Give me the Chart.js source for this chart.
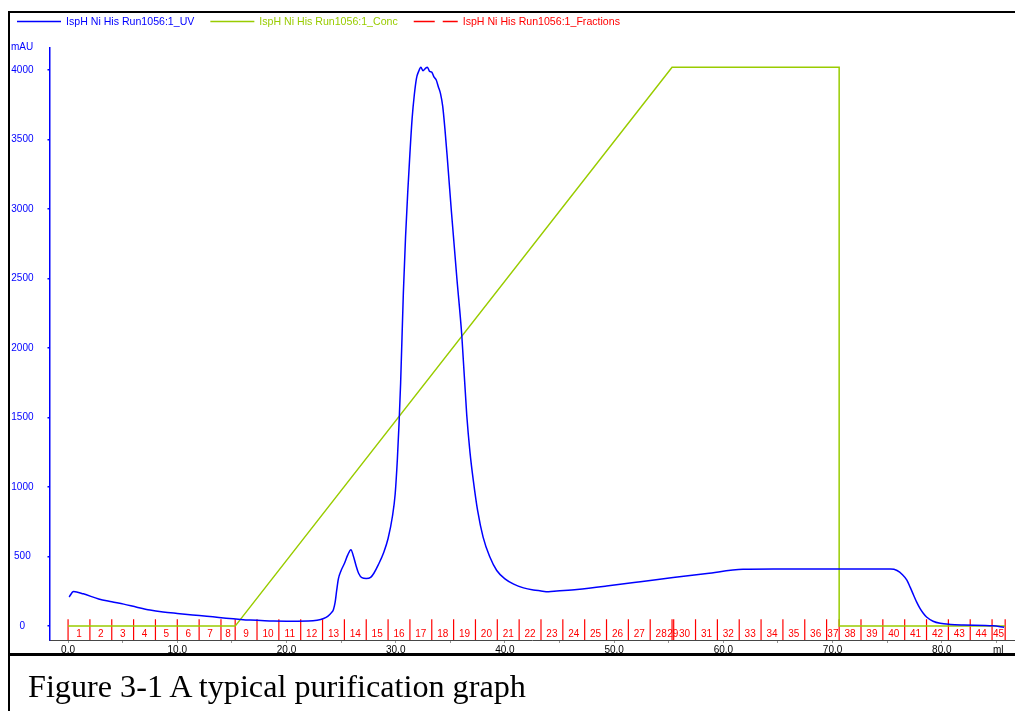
<!DOCTYPE html>
<html>
<head>
<meta charset="utf-8">
<title>IspH Ni His Run1056</title>
<script src="https://cdn.jsdelivr.net/npm/chart.js@4.4.1/dist/chart.umd.min.js"></script>
<style>
  html, body { margin: 0; padding: 0; background: #fff; }
  #wrap { position: relative; width: 1015px; height: 711px; overflow: hidden; }
  #theChart { position: absolute; left: 0; top: 0; }
  .rule { position: absolute; background: #000; }
  #caption {
    position: absolute; left: 28px; top: 670px;
    font: 32.2px/32px "Liberation Serif", "Times New Roman", serif;
    color: #000; white-space: nowrap;
  }
</style>
</head>
<body>
<div id="wrap">
  <canvas id="theChart" width="1015" height="711"></canvas>
  <div class="rule" style="left:8px;top:11px;width:1007px;height:2px"></div>
  <div class="rule" style="left:8px;top:11px;width:2px;height:700px"></div>
  <div class="rule" style="left:8px;top:653px;width:1007px;height:3px"></div>
  <div id="caption">Figure 3-1 A typical purification graph</div>
</div>
<script>
const CHART_COLORS = {
  blue: "#0000ff",
  green: "#99cc00",
  red: "#ff0000",
  axis: "#464646",
  tick: "#969696",
};

// UV trace, ml vs mAU
const uvMl = [0.1, 0.5, 1.4, 2.8, 4.0, 5.1, 6.3, 7.5, 8.7, 10.0, 11.4, 12.7, 13.8, 14.8, 15.8,
  16.7, 18.0, 18.8, 20.5, 22.0, 22.8, 23.4, 23.8, 24.1, 24.3, 24.45, 24.6, 24.75, 25.0, 25.3,
  25.6, 25.9, 26.1, 26.35, 26.6, 26.9, 27.3, 27.7, 28.0, 28.4, 28.9, 29.3, 29.7, 29.95, 30.15,
  30.3, 30.45, 30.7, 30.9, 31.1, 31.3, 31.5, 31.7, 31.9, 32.1, 32.3, 32.5, 32.7, 32.9, 33.1,
  33.3, 33.5, 33.7, 33.9, 34.1, 34.3, 34.5, 34.7, 35.1, 35.6, 36.05, 36.5, 36.8, 37.1, 37.5,
  38.0, 38.6, 39.25, 40.0, 40.8, 41.7, 42.6, 43.2, 44.0, 44.75, 46.6, 49.3, 52.4, 55.4, 58.5,
  61.8, 64.6, 70.0, 75.3, 75.9, 76.4, 76.8, 77.1, 77.4, 77.7, 78.0, 78.3, 78.6, 79.2, 79.85,
  80.8, 82.0, 84.7, 85.7];
const uvMau = [210, 248, 232, 195, 175, 158, 136, 116, 102, 91, 80, 71, 62, 55, 48,
  43, 38, 36, 35, 36, 42, 55, 72, 95, 120, 170, 260, 340, 400, 450,
  510, 550, 510, 440, 380, 348, 342, 350, 380, 440, 530, 630, 790, 950, 1200,
  1450, 1750, 2400, 2800, 3120, 3400, 3650, 3820, 3940, 3990, 4020, 3995, 4010, 4020, 3990,
  3985, 3950, 3930, 3880, 3830, 3740, 3580, 3390, 2980, 2500, 2090, 1520, 1250, 1050, 830,
  640, 500, 400, 340, 302, 275, 260, 254, 247, 252, 264, 288, 319, 350, 379,
  408, 410, 410, 410, 400, 370, 331, 280, 225, 172, 127, 92, 65, 35, 20,
  12, 8, 2, -9];

// gradient (Conc) trace, same y scale
const concMl = [0, 15.3, 55.3, 70.6, 70.6, 85.8];
const concMau = [0, 0, 4020, 4020, 0, 0];

// fraction boundaries (ml) and fraction names
const fracEdges = [0, 2, 4, 6, 8, 10, 12, 14, 15.3, 17.3, 19.3, 21.3, 23.3, 25.3, 27.3, 29.3,
  31.3, 33.3, 35.3, 37.3, 39.3, 41.3, 43.3, 45.3, 47.3, 49.3, 51.3, 53.3, 55.3, 55.45, 57.45,
  59.45, 61.45, 63.45, 65.45, 67.45, 69.45, 70.6, 72.6, 74.6, 76.6, 78.6, 80.6, 82.6, 84.6, 85.8];
const fracNames = ["1", "2", "3", "4", "5", "6", "7", "8", "9", "10", "11", "12", "13", "14", "15",
  "16", "17", "18", "19", "20", "21", "22", "23", "24", "25", "26", "27", "28", "29", "30",
  "31", "32", "33", "34", "35", "36", "37", "38", "39", "40", "41", "42", "43", "44", "45"];

// axis ticks
const xTicks = [0, 5, 10, 15, 20, 25, 30, 35, 40, 45, 50, 55, 60, 65, 70, 75, 80, 85];
const yTicks = [0, 500, 1000, 1500, 2000, 2500, 3000, 3500, 4000];

const seriesNames = ["IspH Ni His Run1056:1_UV", "IspH Ni His Run1056:1_Conc", "IspH Ni His Run1056:1_Fractions"];

const FONT = '"Liberation Sans", Arial, sans-serif';

function toPoints(xs, ys) {
  return xs.map((v, i) => ({ x: v, y: ys[i] }));
}

// each fraction mark is a short vertical segment, broken with a null
const fracPoints = [];
fracEdges.forEach((e) => {
  fracPoints.push({ x: e, y: -100 }, { x: e, y: 50 }, { x: e, y: null });
});

const extras = {
  id: "chromExtras",
  afterDraw(chart) {
    const { ctx } = chart;
    const x = chart.scales.x;
    const y = chart.scales.y;
    ctx.save();

    // fraction numbers
    ctx.font = "10px " + FONT;
    ctx.fillStyle = CHART_COLORS.red;
    ctx.textAlign = "center";
    ctx.textBaseline = "middle";
    const ly = y.getPixelForValue(-57);
    for (let i = 0; i < fracNames.length; i++) {
      const mid = (fracEdges[i] + fracEdges[i + 1]) / 2;
      ctx.fillText(fracNames[i], x.getPixelForValue(mid), ly);
    }

    // units
    ctx.textAlign = "left";
    ctx.fillStyle = CHART_COLORS.blue;
    ctx.fillText("mAU", 11, 47);
    ctx.fillStyle = "#000";
    ctx.fillText("ml", 993, 650);

    // legend across the top
    const legend = [
      { color: CHART_COLORS.blue, dash: [] },
      { color: CHART_COLORS.green, dash: [] },
      { color: CHART_COLORS.red, dash: [21, 8] },
    ];
    let cx = 17;
    ctx.font = "10.6px " + FONT;
    legend.forEach((item, i) => {
      ctx.strokeStyle = item.color;
      ctx.lineWidth = 1.5;
      ctx.setLineDash(item.dash);
      ctx.beginPath();
      ctx.moveTo(cx, 21.5);
      ctx.lineTo(cx + 44, 21.5);
      ctx.stroke();
      ctx.setLineDash([]);
      cx += 49;
      ctx.fillStyle = item.color;
      ctx.fillText(seriesNames[i], cx, 22.5);
      cx += ctx.measureText(seriesNames[i]).width + 16;
    });
    ctx.restore();
  },
};

const config = {
  type: "line",
  data: {
    datasets: [
      {
        label: seriesNames[0],
        data: toPoints(uvMl, uvMau),
        borderColor: CHART_COLORS.blue,
        borderWidth: 1.5,
        pointRadius: 0,
        cubicInterpolationMode: "monotone",
        fill: false,
      },
      {
        label: seriesNames[1],
        data: toPoints(concMl, concMau),
        borderColor: CHART_COLORS.green,
        borderWidth: 1.5,
        pointRadius: 0,
        tension: 0,
        fill: false,
      },
      {
        label: seriesNames[2],
        data: fracPoints,
        borderColor: CHART_COLORS.red,
        borderWidth: 1.2,
        pointRadius: 0,
        tension: 0,
        spanGaps: false,
        fill: false,
      },
    ],
  },
  options: {
    responsive: false,
    animation: false,
    devicePixelRatio: 1,
    events: [],
    layout: { padding: { left: 10, top: 48, right: 0, bottom: 55 } },
    plugins: {
      legend: { display: false },
      tooltip: { enabled: false },
    },
    scales: {
      x: {
        type: "linear",
        min: -1.7,
        max: 86.7,
        afterBuildTicks: (s) => { s.ticks = xTicks.map((v) => ({ value: v })); },
        afterFit: (s) => { s.height = 16; },
        border: { color: CHART_COLORS.axis, width: 1 },
        grid: { drawOnChartArea: false, tickLength: 3, color: CHART_COLORS.tick },
        ticks: {
          autoSkip: false,
          maxRotation: 0,
          padding: 1,
          color: "#000",
          font: { family: FONT, size: 10 },
          callback: (v) => (v % 10 === 0 ? Number(v).toFixed(1) : ""),
        },
      },
      y: {
        type: "linear",
        min: -100,
        max: 4158,
        afterBuildTicks: (s) => { s.ticks = yTicks.map((v) => ({ value: v })); },
        afterFit: (s) => { s.width = 39.5; },
        border: { color: CHART_COLORS.blue, width: 1.5 },
        grid: { drawOnChartArea: false, tickLength: 2, color: CHART_COLORS.blue, lineWidth: 1.5 },
        ticks: {
          autoSkip: false,
          crossAlign: "center",
          padding: 14,
          color: CHART_COLORS.blue,
          font: { family: FONT, size: 10 },
          callback: (v) => String(v),
        },
      },
    },
  },
  plugins: [extras],
};

const theChart = new Chart(document.getElementById("theChart"), config);
</script>
</body>
</html>
